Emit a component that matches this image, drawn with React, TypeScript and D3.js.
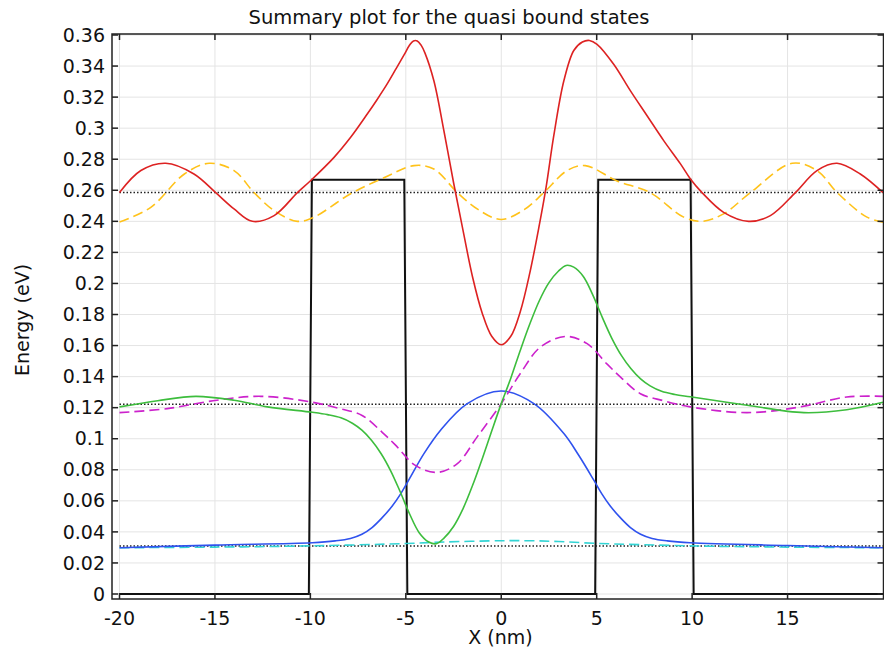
import React from "react";
import * as d3 from "d3";

const title = "Summary plot for the quasi bound states";
const xLabel = "X (nm)";
const yLabel = "Energy (eV)";

const xTicks = [-20, -15, -10, -5, 0, 5, 10, 15];
const yTicks = [0, 0.02, 0.04, 0.06, 0.08, 0.1, 0.12, 0.14, 0.16, 0.18, 0.2, 0.22, 0.24, 0.26, 0.28, 0.3, 0.32, 0.34, 0.36];

// Potential profile
const potX = [-20, -10.08, -9.92, -5.08, -4.92, 4.92, 5.08, 9.92, 10.08, 20];
const potY = [0, 0, 0.2667, 0.2667, 0, 0, 0.2667, 0.2667, 0, 0];

// Energy levels (dotted)
const levels = [0.2585, 0.1222, 0.0309];

// Red solid
const redX = [-20, -18.88, -17.58, -16.1, -14.96, -14, -13.04, -11.9, -10.68, -9.98, -8.76, -7.89, -7.02, -6.5, -6.0, -5.5, -5.1, -4.8, -4.6, -4.4, -4.2, -4.0, -3.53, -3.0, -2.5, -2.0, -1.5, -1.0, -0.5, 0, 0.5, 1.0, 1.5, 2.0, 2.35, 2.75, 3.28, 3.8, 4.25, 4.62, 5.02, 5.9, 6.77, 7.64, 8.51, 9.39, 9.91, 10.52, 11.65, 12.96, 14.1, 15.41, 16.54, 17.59, 18.81, 20];
const redY = [0.2585, 0.2727, 0.2774, 0.2705, 0.2585, 0.248, 0.240, 0.2437, 0.2585, 0.2663, 0.2812, 0.2941, 0.3091, 0.3185, 0.328, 0.3385, 0.347, 0.3535, 0.3562, 0.3562, 0.3535, 0.3485, 0.3305, 0.298, 0.265, 0.234, 0.204, 0.181, 0.166, 0.1605, 0.166, 0.182, 0.207, 0.238, 0.262, 0.295, 0.3305, 0.350, 0.3555, 0.3565, 0.354, 0.341, 0.324, 0.308, 0.292, 0.277, 0.2673, 0.2585, 0.2458, 0.240, 0.2437, 0.2585, 0.2727, 0.2774, 0.2705, 0.2585];

// Yellow dashed
const yelX = [-20, -18.36, -16.6, -15.3, -14.0, -12.95, -11.9, -10.68, -9.81, -7.89, -6.15, -4.57, -3.53, -2.3, -1.2, 0, 1.2, 2.23, 3.45, 4.4, 6.07, 7.8, 9.56, 10.52, 11.65, 13.05, 15.24, 16.54, 17.6, 19.16, 20];
const yelY = [0.2395, 0.249, 0.2705, 0.2774, 0.2727, 0.2585, 0.2469, 0.240, 0.2427, 0.2578, 0.268, 0.2759, 0.2737, 0.2585, 0.2475, 0.2412, 0.2475, 0.2585, 0.2727, 0.2759, 0.266, 0.2585, 0.2427, 0.240, 0.2448, 0.2585, 0.2774, 0.2727, 0.2585, 0.2427, 0.2395];

// Green solid
const grnX = [-20, -18, -16, -14, -12.25, -9.9, -9.1, -8.4, -7.8, -7.3, -6.8, -6.3, -5.8, -5.3, -4.8, -4.3, -3.8, -3.4, -3.0, -2.5, -2.0, -1.5, -1.0, -0.5, 0, 0.5, 1.0, 1.5, 2.0, 2.5, 3.0, 3.4, 3.8, 4.3, 4.8, 5.3, 5.8, 6.3, 6.8, 7.3, 7.8, 8.4, 9.1, 9.9, 12.88, 15.85, 18.1, 20];
const grnY = [0.1205, 0.1245, 0.1273, 0.1248, 0.1205, 0.117, 0.1155, 0.1135, 0.110, 0.1055, 0.099, 0.0905, 0.0795, 0.066, 0.0515, 0.0395, 0.0335, 0.0324, 0.036, 0.0435, 0.055, 0.07, 0.087, 0.105, 0.1226, 0.139, 0.157, 0.174, 0.189, 0.2005, 0.208, 0.2116, 0.2105, 0.2045, 0.1925, 0.178, 0.1645, 0.1535, 0.145, 0.1385, 0.134, 0.1305, 0.1285, 0.127, 0.1216, 0.1168, 0.1187, 0.1235];

// Magenta dashed
const magX = [-20, -17.5, -14.9, -12.6, -9.98, -8.5, -7.29, -6.25, -5.55, -4.5, -3.37, -2.3, -1.26, 0, 1.0, 2.05, 3.37, 4.5, 5.55, 6.25, 7.29, 8.5, 9.9, 12.88, 15.67, 18.1, 20];
const magY = [0.1168, 0.1194, 0.1248, 0.1273, 0.1237, 0.1195, 0.115, 0.1043, 0.096, 0.0828, 0.0783, 0.084, 0.1012, 0.1226, 0.142, 0.159, 0.1659, 0.1612, 0.148, 0.1397, 0.129, 0.1245, 0.1205, 0.1168, 0.1205, 0.1269, 0.1273];

// Blue solid
const bluX = [-20, -15, -9.9, -8.7, -7.9, -7.3, -6.77, -6.25, -5.72, -5.27, -4.85, -4.05, -3.18, -1.78, 0, 1.71, 3.28, 4.05, 4.85, 5.27, 5.72, 6.25, 6.77, 7.3, 7.9, 8.7, 9.9, 15, 20];
const bluY = [0.0298, 0.0315, 0.033, 0.0342, 0.0358, 0.0385, 0.0428, 0.049, 0.0565, 0.0645, 0.0733, 0.0904, 0.1055, 0.1226, 0.1307, 0.1226, 0.1033, 0.0895, 0.0733, 0.0645, 0.0565, 0.049, 0.0428, 0.0385, 0.0358, 0.0342, 0.033, 0.0312, 0.0298];

// Cyan dashed
const cyaX = [-20, -15, -10, -5, -3, 0, 1.5, 3, 5, 10, 15, 20];
const cyaY = [0.0298, 0.0302, 0.031, 0.0325, 0.0335, 0.0343, 0.0343, 0.0338, 0.0326, 0.031, 0.0302, 0.0298];

const W = 884;
const H = 651;
const L = 112, R = 883.5, T = 34, B = 599;

const x = d3.scaleLinear().domain([-20, 20]).range([119.5, 883]);
const y = d3.scaleLinear().domain([0, 0.36]).range([594, 35]);

const smooth = d3.line<[number, number]>().x(d => x(d[0])).y(d => y(d[1])).curve(d3.curveCatmullRom.alpha(0.5));
const straight = d3.line<[number, number]>().x(d => x(d[0])).y(d => y(d[1]));

const zip = (a: number[], b: number[]) => a.map((v, i) => [v, b[i]] as [number, number]);

const fmtY = (v: number) => (v === 0 ? "0" : String(+v.toFixed(2)));

const FONT = "DejaVu Sans, sans-serif";

const series = [
  { xs: cyaX, ys: cyaY, color: "#33d4d4", dash: "10,5" },
  { xs: bluX, ys: bluY, color: "#2f52ee", dash: undefined },
  { xs: magX, ys: magY, color: "#cc22cc", dash: "10,5" },
  { xs: grnX, ys: grnY, color: "#3dbd3d", dash: undefined },
  { xs: yelX, ys: yelY, color: "#ffc21a", dash: "10,5" },
  { xs: redX, ys: redY, color: "#dd2222", dash: undefined },
];

export default function App() {
  return (
    <svg width={W} height={H} style={{ position: "absolute", left: 0, top: 0, background: "#fff" }} fontFamily={FONT}>
      <rect x={0} y={0} width={W} height={H} fill="#fff" />
      {xTicks.map(t => (
        <line key={"gx" + t} x1={x(t)} x2={x(t)} y1={T} y2={B} stroke="#e4e4e4" strokeWidth={1} />
      ))}
      {yTicks.map(t => (
        <line key={"gy" + t} x1={L} x2={R} y1={y(t)} y2={y(t)} stroke="#e4e4e4" strokeWidth={1} />
      ))}
      <path d={straight(zip(potX, potY)) || ""} fill="none" stroke="#111" strokeWidth={2} />
      {levels.map(l => (
        <line key={"lv" + l} x1={x(-20)} x2={x(20)} y1={y(l)} y2={y(l)} stroke="#222" strokeWidth={1.5} strokeDasharray="1.5,2" />
      ))}
      {series.map((s, i) => (
        <path key={"s" + i} d={smooth(zip(s.xs, s.ys)) || ""} fill="none" stroke={s.color} strokeWidth={1.6} strokeDasharray={s.dash} />
      ))}
      <rect x={L} y={T} width={R - L} height={B - T} fill="none" stroke="#222" strokeWidth={1.5} />
      {xTicks.map(t => (
        <g key={"tx" + t}>
          <line x1={x(t)} x2={x(t)} y1={B} y2={B - 6} stroke="#222" strokeWidth={1.5} />
          <line x1={x(t)} x2={x(t)} y1={T} y2={T + 6} stroke="#222" strokeWidth={1.5} />
          <text x={x(t)} y={625} textAnchor="middle" fontSize={19} fill="#111">{String(t)}</text>
        </g>
      ))}
      {yTicks.map(t => (
        <g key={"ty" + t}>
          <line x1={L} x2={L + 6} y1={y(t)} y2={y(t)} stroke="#222" strokeWidth={1.5} />
          <line x1={R} x2={R - 6} y1={y(t)} y2={y(t)} stroke="#222" strokeWidth={1.5} />
          <text x={105} y={y(t)} dy="0.35em" textAnchor="end" fontSize={19} fill="#111">{fmtY(t)}</text>
        </g>
      ))}
      <text x={449} y={24} textAnchor="middle" fontSize={19.5} fill="#111">{title}</text>
      <text x={500.5} y={644} textAnchor="middle" fontSize={19} fill="#111">{xLabel}</text>
      <text transform="translate(29,320) rotate(-90)" textAnchor="middle" fontSize={19} fill="#111">{yLabel}</text>
    </svg>
  );
}
